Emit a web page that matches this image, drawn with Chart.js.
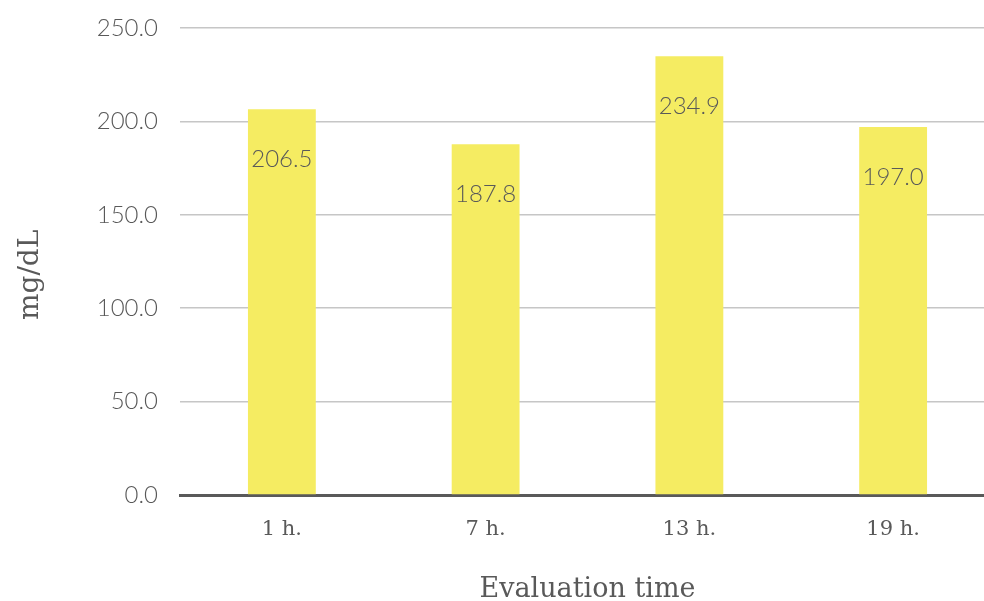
<!DOCTYPE html>
<html>
<head>
<meta charset="utf-8">
<script src="https://cdn.jsdelivr.net/npm/chart.js@4.4.0/dist/chart.umd.min.js"></script>
<style>
  html, body { margin: 0; padding: 0; background: #ffffff; overflow: hidden; }
  #wrap { width: 1000px; height: 601px; position: relative; }
</style>
</head>
<body>
<div id="wrap"><canvas id="chart"></canvas></div>
<script>
// Cholesterol-style readings by evaluation time
const categories = ['1 h.', '7 h.', '13 h.', '19 h.'];
const values = [206.5, 187.8, 234.9, 197.0];
const yTicks = [0, 50, 100, 150, 200, 250];

const labelFont = "'Lato', 'Open Sans', sans-serif";
const serifFont = "'DejaVu Serif', 'Liberation Serif', serif";
const grey = '#595959';

// Value labels drawn just inside the top of each bar
const valueLabels = {
  id: 'valueLabels',
  afterDatasetsDraw(chart) {
    const ctx = chart.ctx;
    const meta = chart.getDatasetMeta(0);
    ctx.save();
    ctx.font = '300 24px ' + labelFont;
    ctx.fillStyle = grey;
    ctx.textAlign = 'center';
    ctx.textBaseline = 'middle';
    meta.data.forEach((bar, i) => {
      ctx.fillText(values[i].toFixed(1), bar.x, bar.y + 50);
    });
    ctx.restore();
  }
};

new Chart(document.getElementById('chart'), {
  type: 'bar',
  data: {
    labels: categories,
    datasets: [{
      data: values,
      backgroundColor: '#f5ec62',
      borderWidth: 0,
      barPercentage: 1,
      categoryPercentage: 0.333
    }]
  },
  options: {
    responsive: true,
    maintainAspectRatio: false,
    animation: false,
    layout: { padding: { top: 9, right: 5, left: 0, bottom: 0 } },
    plugins: { legend: { display: false }, tooltip: { enabled: false } },
    scales: {
      x: {
        grid: { display: false, drawTicks: false },
        border: { display: true, color: grey, width: 3 },
        ticks: {
          color: grey,
          font: { family: serifFont, size: 21 },
          padding: 22
        },
        title: {
          display: true,
          text: 'Evaluation time',
          color: grey,
          font: { family: serifFont, size: 27 },
          padding: { top: 10, bottom: -5 }
        },
        afterFit(scale) { scale.height = 106; }
      },
      y: {
        min: 0,
        max: 250,
        afterBuildTicks(scale) { scale.ticks = yTicks.map(v => ({ value: v })); },
        grid: { color: '#c6c6c6', lineWidth: 1.5, drawTicks: false },
        border: { display: false },
        ticks: {
          color: grey,
          font: { family: labelFont, size: 24, weight: '300', lineHeight: 0.5 },
          padding: 22,
          callback: v => Number(v).toFixed(1)
        },
        title: {
          display: true,
          text: 'mg/dL   ',
          color: grey,
          font: { family: serifFont, size: 28 },
          padding: { top: 14, bottom: 0 }
        },
        afterFit(scale) { scale.width = 180; }
      }
    }
  },
  plugins: [valueLabels]
});
</script>
</body>
</html>
